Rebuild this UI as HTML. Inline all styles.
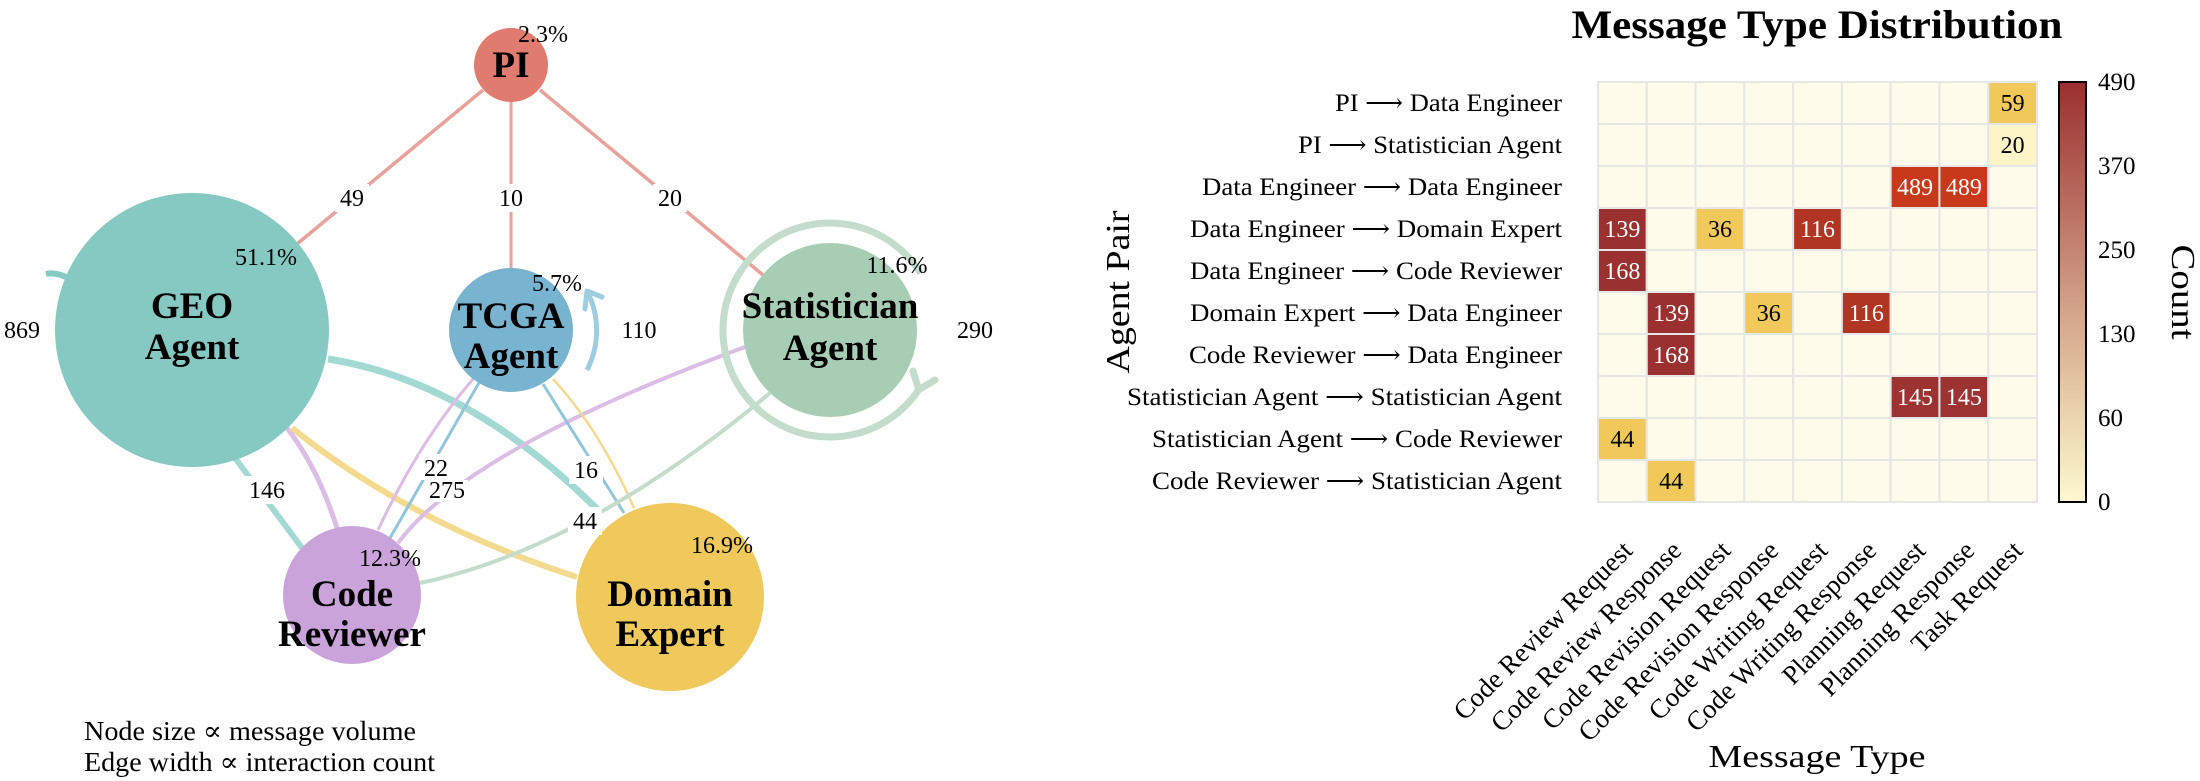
<!DOCTYPE html>
<html><head><meta charset="utf-8"><style>
html,body{margin:0;padding:0;background:#fff;}
svg{display:block;font-family:"Liberation Serif","DejaVu Serif",serif;}
</style></head><body>
<svg width="2200" height="781" viewBox="0 0 2200 781" xmlns="http://www.w3.org/2000/svg">
<rect width="2200" height="781" fill="#fff"/>
<g fill="none" stroke-linecap="butt">
<line x1="483" y1="90" x2="297" y2="244" stroke="#e8a19b" stroke-width="3.5"/>
<line x1="511" y1="102" x2="511" y2="268" stroke="#e8a19b" stroke-width="3"/>
<line x1="540" y1="90" x2="763" y2="275" stroke="#e8a19b" stroke-width="3.5"/>
<line x1="235" y1="458" x2="305" y2="552" stroke="#a3d9d3" stroke-width="6"/>
<path d="M287 428 Q318 468 337 528" stroke="#dbbde6" stroke-width="5"/>
<path d="M292 428 Q410 523 577 577" stroke="#f3da8e" stroke-width="6"/>
<path d="M328 359 Q468 381 598 510" stroke="#a3d9d3" stroke-width="7"/>
<path d="M474 378 Q420 440 378 530" stroke="#dbbde6" stroke-width="3"/>
<line x1="480" y1="381" x2="390" y2="538" stroke="#92c6de" stroke-width="3"/>
<path d="M398 543 Q468 449 745 347" stroke="#dbbde6" stroke-width="4"/>
<line x1="543" y1="384" x2="624" y2="513" stroke="#92c6de" stroke-width="3"/>
<path d="M553 379 Q600 430 634 508" stroke="#f3da8e" stroke-width="2.5"/>
<path d="M420 583 Q585 548 770 393" stroke="#c3dccb" stroke-width="4"/>
<path d="M920.7 273.3 A107 107 0 1 0 918.7 389.8" stroke="#c3dccb" stroke-width="7"/>
<path d="M918.7 389.8 L913 371 M918.7 389.8 L935 380" stroke="#c3dccb" stroke-width="7" stroke-linecap="round"/>
<path d="M587 370 A86 86 0 0 0 587 291" stroke="#9fcde0" stroke-width="5"/>
<path d="M587 291 L585 309 M587 291 L602 297" stroke="#9fcde0" stroke-width="5" stroke-linecap="round"/>
<path d="M46 274 Q55 272 66 277" stroke="#86c9c2" stroke-width="6"/>
</g>
<circle cx="511" cy="65" r="37" fill="#e07b70"/>
<circle cx="192" cy="330" r="137" fill="#86c9c2"/>
<circle cx="511" cy="330" r="62" fill="#78b3d0"/>
<circle cx="830" cy="330" r="87" fill="#a8cdb5"/>
<circle cx="352" cy="595" r="69" fill="#cba3db"/>
<circle cx="670" cy="597" r="94" fill="#f0c95c"/>
<g font-weight="bold" font-size="37" text-anchor="middle" fill="#000">
<text x="511" y="77">PI</text>
<text x="192" y="318">GEO</text><text x="192" y="359">Agent</text>
<text x="511" y="328">TCGA</text><text x="511" y="368">Agent</text>
<text x="830" y="318">Statistician</text><text x="830" y="360">Agent</text>
<text x="352" y="606">Code</text><text x="352" y="646">Reviewer</text>
<text x="670" y="606">Domain</text><text x="670" y="646">Expert</text>
</g>
<g font-size="24" text-anchor="middle" fill="#000">
<text x="543" y="42">2.3%</text>
<text x="266" y="265">51.1%</text>
<text x="557" y="291">5.7%</text>
<text x="897" y="273">11.6%</text>
<text x="390" y="566">12.3%</text>
<text x="722" y="553">16.9%</text>
</g>
<g fill="#fff">
<rect x="335" y="184" width="34" height="28"/><rect x="494" y="184" width="34" height="28"/><rect x="653" y="184" width="34" height="28"/>
<rect x="244" y="476" width="46" height="28"/><rect x="419" y="454" width="34" height="26"/><rect x="428" y="480" width="40" height="22"/>
<rect x="569" y="456" width="34" height="28"/><rect x="568" y="507" width="34" height="28"/>
</g>
<g font-size="24" text-anchor="middle" fill="#000">
<text x="352" y="206">49</text><text x="511" y="206">10</text><text x="670" y="206">20</text>
<text x="267" y="498">146</text><text x="436" y="476">22</text><text x="447" y="498">275</text>
<text x="586" y="478">16</text><text x="585" y="529">44</text>
<text x="639" y="338">110</text><text x="975" y="338">290</text><text x="22" y="338">869</text>
</g>
<g font-size="27" fill="#000">
<text x="84" y="740" textLength="332" lengthAdjust="spacingAndGlyphs">Node size ∝ message volume</text>
<text x="84" y="771" textLength="351" lengthAdjust="spacingAndGlyphs">Edge width ∝ interaction count</text>
</g>

<text x="1817" y="38" font-size="40" font-weight="bold" text-anchor="middle" textLength="491" lengthAdjust="spacingAndGlyphs">Message Type Distribution</text>
<g id="cells" stroke="#e6e6e6" stroke-width="2" fill="#fefbea"></g>
<g font-size="25" fill="#000">
<text x="1335" y="111" textLength="227" lengthAdjust="spacingAndGlyphs">PI ⟶ Data Engineer</text>
<text x="1298" y="153" textLength="264" lengthAdjust="spacingAndGlyphs">PI ⟶ Statistician Agent</text>
<text x="1202" y="195" textLength="360" lengthAdjust="spacingAndGlyphs">Data Engineer ⟶ Data Engineer</text>
<text x="1190" y="237" textLength="372" lengthAdjust="spacingAndGlyphs">Data Engineer ⟶ Domain Expert</text>
<text x="1190" y="279" textLength="372" lengthAdjust="spacingAndGlyphs">Data Engineer ⟶ Code Reviewer</text>
<text x="1190" y="321" textLength="372" lengthAdjust="spacingAndGlyphs">Domain Expert ⟶ Data Engineer</text>
<text x="1189" y="363" textLength="373" lengthAdjust="spacingAndGlyphs">Code Reviewer ⟶ Data Engineer</text>
<text x="1127" y="405" textLength="435" lengthAdjust="spacingAndGlyphs">Statistician Agent ⟶ Statistician Agent</text>
<text x="1152" y="447" textLength="410" lengthAdjust="spacingAndGlyphs">Statistician Agent ⟶ Code Reviewer</text>
<text x="1152" y="489" textLength="410" lengthAdjust="spacingAndGlyphs">Code Reviewer ⟶ Statistician Agent</text>
</g>
<text transform="translate(1129,292) rotate(-90)" font-size="34" text-anchor="middle" textLength="163" lengthAdjust="spacingAndGlyphs">Agent Pair</text>
<text x="1817" y="767" font-size="32" text-anchor="middle" textLength="217" lengthAdjust="spacingAndGlyphs">Message Type</text>
<g font-size="27" text-anchor="end" fill="#000">
<text transform="translate(1634,552) rotate(-45)">Code Review Request</text>
<text transform="translate(1683,552) rotate(-45)">Code Review Response</text>
<text transform="translate(1732,552) rotate(-45)">Code Revision Request</text>
<text transform="translate(1780,552) rotate(-45)">Code Revision Response</text>
<text transform="translate(1829,552) rotate(-45)">Code Writing Request</text>
<text transform="translate(1878,552) rotate(-45)">Code Writing Response</text>
<text transform="translate(1927,552) rotate(-45)">Planning Request</text>
<text transform="translate(1976,552) rotate(-45)">Planning Response</text>
<text transform="translate(2024,552) rotate(-45)">Task Request</text>
</g>
<defs><linearGradient id="cb" x1="0" y1="0" x2="0" y2="1">
<stop offset="0" stop-color="#9a2f2f"/><stop offset="0.25" stop-color="#b5645a"/>
<stop offset="0.5" stop-color="#cf9a84"/><stop offset="0.75" stop-color="#e6cca6"/>
<stop offset="1" stop-color="#fdf8d0"/></linearGradient></defs>
<rect x="2059" y="82" width="27" height="420" fill="url(#cb)" stroke="#000" stroke-width="2"/>
<g font-size="25" fill="#000">
<text x="2098" y="90">490</text><text x="2098" y="174">370</text><text x="2098" y="258">250</text>
<text x="2098" y="342">130</text><text x="2098" y="426">60</text><text x="2098" y="510">0</text>
</g>
<text transform="translate(2172,292) rotate(90)" font-size="34" text-anchor="middle" textLength="95" lengthAdjust="spacingAndGlyphs">Count</text>
<g id="vals" font-size="24" text-anchor="middle"></g>
</svg>
<script>
(function(){
var ns="http://www.w3.org/2000/svg",g=document.getElementById("cells"),v=document.getElementById("vals");
var x0=1598,y0=82,w=439/9,h=42;
var d={"0,8":[59,"#f0c95a",0],"1,8":[20,"#fdf5c8",0],"2,6":[489,"#c8381a",1],"2,7":[489,"#c8381a",1],
"3,0":[139,"#9a3030",1],"3,2":[36,"#f0c95a",0],"3,4":[116,"#b03522",1],"4,0":[168,"#9a3030",1],
"5,1":[139,"#9a3030",1],"5,3":[36,"#f0c95a",0],"5,5":[116,"#b03522",1],"6,1":[168,"#9a3030",1],
"7,6":[145,"#9c3232",1],"7,7":[145,"#9c3232",1],"8,0":[44,"#f0c95a",0],"9,1":[44,"#f0c95a",0]};
for(var r=0;r<10;r++)for(var c=0;c<9;c++){
var e=document.createElementNS(ns,"rect");e.setAttribute("x",x0+c*w);e.setAttribute("y",y0+r*h);
e.setAttribute("width",w);e.setAttribute("height",h);var k=r+","+c;
if(d[k])e.setAttribute("fill",d[k][1]);g.appendChild(e);
if(d[k]){var t=document.createElementNS(ns,"text");t.setAttribute("x",x0+c*w+w/2);t.setAttribute("y",y0+r*h+h/2+8);
t.setAttribute("fill",d[k][2]?"#fff":"#000");t.textContent=d[k][0];v.appendChild(t);}
}})();
</script>
</body></html>
